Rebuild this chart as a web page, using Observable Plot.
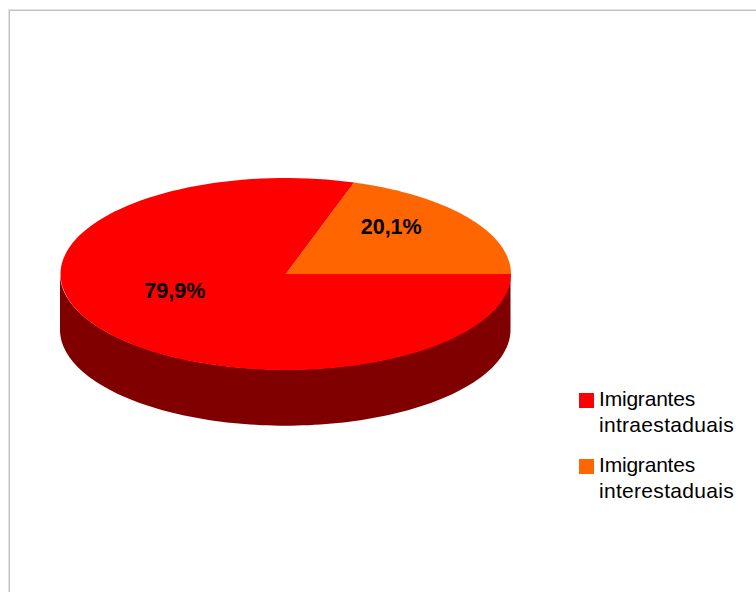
<!DOCTYPE html>
<html lang="pt">
<head>
<meta charset="utf-8">
<script src="https://cdn.jsdelivr.net/npm/d3@7"></script>
<script src="https://cdn.jsdelivr.net/npm/@observablehq/plot@0.6"></script>
<style>
  html, body { margin: 0; padding: 0; background: #fff; }
  #page { position: relative; width: 756px; height: 592px; overflow: hidden; font-family: "Liberation Sans", Arial, sans-serif; }
  #frame { position: absolute; left: 9px; top: 10px; width: 760px; height: 600px; border: 1px solid #c0c0c0; box-shadow: 0 0 0 1px #e4e4e4; box-sizing: border-box; }
  #chart { position: absolute; left: 0; top: 0; }
  #chart svg { display: block; }
  #legend { position: absolute; left: 579px; top: 386px; font-size: 21px; line-height: 26px; color: #000; }
  .item { position: relative; padding-left: 20px; margin-bottom: 14px; white-space: nowrap; }
  .item .head { letter-spacing: -0.2px; }
  .item .tail { letter-spacing: 0.3px; }
  .swatch { position: absolute; left: 0; top: 7px; width: 15px; height: 15px; }
</style>
</head>
<body>
<div id="page">
  <div id="frame"></div>
  <div id="chart"></div>
  <div id="legend"></div>
</div>
<script>
// Migrant shares, in percent
const categories = ["Imigrantes interestaduais", "Imigrantes intraestaduais"];
const shares = [20.1, 79.9];
const valueLabels = ["20,1%", "79,9%"];
const sliceColors = ["#ff6600", "#ff0000"];
const sideColor = "#800000";

// The tilted disc lives in unit coordinates; the thickness is in the same units as its height
const thickness = 0.585;
const labelReach = [[0.58, 0.82], [0.61, 0.31]];

const rad = Math.PI / 180;
const ring = (from, to) => d3.range(0, 1.0001, 1 / 120).map(k => from + (to - from) * k);

// Slices run counterclockwise from three o'clock
let start = 0;
const slices = shares.map((v, i) => {
  const end = start + v * 3.6;
  const s = {i, start, end, mid: (start + end) / 2};
  start = end;
  return s;
});

const outline = slices.flatMap(s => [
  {i: s.i, x: 0, y: 0},
  ...ring(s.start, s.end).map(a => ({i: s.i, x: Math.cos(a * rad), y: Math.sin(a * rad)}))
]);

const side = ring(180, 360).map(a => ({
  x: Math.cos(a * rad),
  y1: Math.sin(a * rad),
  y2: Math.sin(a * rad) - thickness
}));

const labels = slices.map(s => ({
  x: Math.cos(s.mid * rad) * labelReach[s.i][0],
  y: Math.sin(s.mid * rad) * labelReach[s.i][1],
  text: valueLabels[s.i]
}));

const chart = Plot.plot({
  width: 756,
  height: 592,
  margin: 0,
  x: {domain: [-1, 1], range: [60, 510.5], axis: null},
  y: {domain: [-1, 1], range: [369.5, 177.5], axis: null},
  style: {background: "transparent", fontFamily: "'Liberation Sans', Arial, sans-serif"},
  marks: [
    Plot.areaY(side, {x: "x", y1: "y1", y2: "y2", fill: sideColor}),
    Plot.line(outline, {x: "x", y: "y", z: "i", fill: d => sliceColors[d.i], stroke: "none", curve: "linear"}),
    Plot.text(labels, {x: "x", y: "y", text: "text", fontSize: 21.5, fontWeight: "bold", fill: "#000"})
  ]
});
document.getElementById("chart").append(chart);

// Legend lists the larger group first, each name broken over two lines
const legend = document.getElementById("legend");
[1, 0].forEach(i => {
  const item = document.createElement("div");
  item.className = "item";
  const swatch = document.createElement("span");
  swatch.className = "swatch";
  swatch.style.background = sliceColors[i];
  item.append(swatch);
  categories[i].split(" ").forEach((word, n) => {
    if (n) item.append(document.createElement("br"));
    const line = document.createElement("span");
    line.className = n ? "tail" : "head";
    line.textContent = word;
    item.append(line);
  });
  legend.append(item);
});
</script>
</body>
</html>
